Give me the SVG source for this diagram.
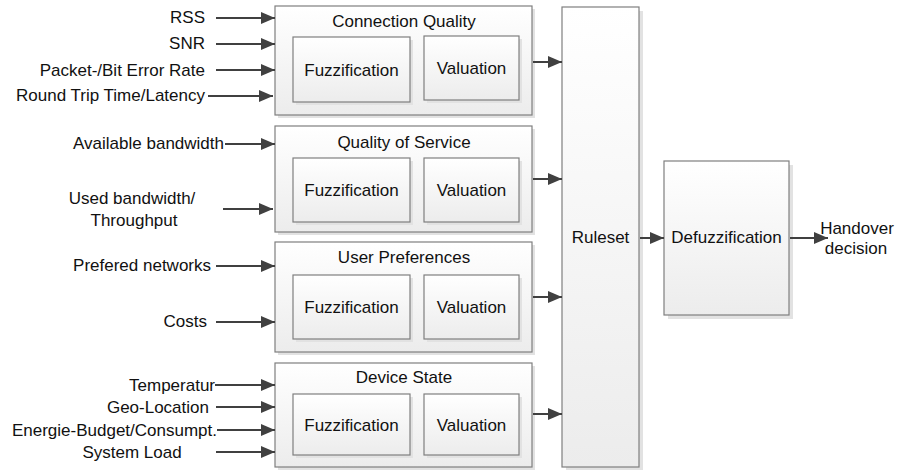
<svg xmlns="http://www.w3.org/2000/svg" width="902" height="470" viewBox="0 0 902 470">
<defs>
<linearGradient id="g" x1="0" y1="0" x2="0" y2="1">
<stop offset="0" stop-color="#ffffff"/>
<stop offset="1" stop-color="#ececec"/>
</linearGradient>
<marker id="ah" markerUnits="userSpaceOnUse" markerWidth="14" markerHeight="12" viewBox="0 0 14 12" refX="14" refY="6" orient="auto">
<path d="M0,0 L14,6 L0,12 z" fill="#404040"/>
</marker>
</defs>
<style>
text{font-family:"Liberation Sans",Arial,sans-serif;font-size:17px;fill:#111111}
.c{text-anchor:middle}
.r{text-anchor:end}
.box{fill:url(#g);stroke:#7f7f7f;stroke-width:1.2}
.sh{fill:#e2e2e2}
.cn line{stroke:#404040;stroke-width:2;marker-end:url(#ah)}
</style>
<rect width="902" height="470" fill="#ffffff"/>

<g id="connection-quality">
<rect class="sh" x="278" y="9" width="257" height="109"/>
<rect class="box" x="275" y="6" width="257" height="109"/>
<text class="c" x="404" y="27">Connection Quality</text>
<g id="cq-fuzz"><rect class="sh" x="296" y="40" width="117" height="65"/><rect class="box" x="293" y="37" width="117" height="65"/><text class="c" x="351.5" y="75.5">Fuzzification</text></g>
<g id="cq-val"><rect class="sh" x="427" y="39" width="95" height="64"/><rect class="box" x="424" y="36" width="95" height="64"/><text class="c" x="471.5" y="74">Valuation</text></g>
</g>

<g id="quality-of-service">
<rect class="sh" x="278" y="129" width="257" height="106"/>
<rect class="box" x="275" y="126" width="257" height="106"/>
<text class="c" x="404" y="148">Quality of Service</text>
<g id="qos-fuzz"><rect class="sh" x="296" y="161" width="117" height="64"/><rect class="box" x="293" y="158" width="117" height="64"/><text class="c" x="351.5" y="196">Fuzzification</text></g>
<g id="qos-val"><rect class="sh" x="427" y="161" width="95" height="64"/><rect class="box" x="424" y="158" width="95" height="64"/><text class="c" x="471.5" y="196">Valuation</text></g>
</g>

<g id="user-preferences">
<rect class="sh" x="278" y="245" width="257" height="110"/>
<rect class="box" x="275" y="242" width="257" height="110"/>
<text class="c" x="404" y="263">User Preferences</text>
<g id="up-fuzz"><rect class="sh" x="296" y="278" width="117" height="64"/><rect class="box" x="293" y="275" width="117" height="64"/><text class="c" x="351.5" y="313">Fuzzification</text></g>
<g id="up-val"><rect class="sh" x="427" y="278" width="95" height="64"/><rect class="box" x="424" y="275" width="95" height="64"/><text class="c" x="471.5" y="313">Valuation</text></g>
</g>

<g id="device-state">
<rect class="sh" x="278" y="366" width="257" height="104"/>
<rect class="box" x="275" y="363" width="257" height="104"/>
<text class="c" x="404" y="383">Device State</text>
<g id="ds-fuzz"><rect class="sh" x="296" y="397" width="117" height="61"/><rect class="box" x="293" y="394" width="117" height="61"/><text class="c" x="351.5" y="430.5">Fuzzification</text></g>
<g id="ds-val"><rect class="sh" x="427" y="397" width="95" height="61"/><rect class="box" x="424" y="394" width="95" height="61"/><text class="c" x="471.5" y="430.5">Valuation</text></g>
</g>

<g id="ruleset">
<rect class="sh" x="566" y="11" width="77" height="460"/>
<rect class="box" x="562" y="7" width="77" height="460"/>
<text class="c" x="600.5" y="243">Ruleset</text>
</g>

<g id="defuzzification">
<rect class="sh" x="668" y="165" width="125" height="154"/>
<rect class="box" x="664" y="161" width="125" height="154"/>
<text class="c" x="726.5" y="243">Defuzzification</text>
</g>

<g id="inputs">
<text class="r" x="205" y="23">RSS</text>
<text class="r" x="205" y="49">SNR</text>
<text class="r" x="205" y="76">Packet-/Bit Error Rate</text>
<text class="r" x="205" y="101">Round Trip Time/Latency</text>
<text class="r" x="224" y="149">Available bandwidth</text>
<text class="c" x="132" y="204">Used bandwidth/</text>
<text class="c" x="134" y="226">Throughput</text>
<text class="r" x="211" y="271">Prefered networks</text>
<text class="r" x="207" y="327">Costs</text>
<text class="r" x="215" y="391">Temperatur</text>
<text class="r" x="209" y="413">Geo-Location</text>
<text class="r" x="217" y="436">Energie-Budget/Consumpt.</text>
<text class="c" x="132" y="458">System Load</text>
</g>

<g id="handover-decision">
<text class="c" x="857" y="234">Handover</text>
<text class="c" x="856" y="254">decision</text>
</g>

<g id="connectors" class="cn">
<line x1="216" y1="18" x2="275" y2="18"/>
<line x1="216" y1="44" x2="275" y2="44"/>
<line x1="216" y1="70" x2="275" y2="70"/>
<line x1="208" y1="96" x2="273" y2="96"/>
<line x1="225" y1="144" x2="275" y2="144"/>
<line x1="223" y1="209" x2="273" y2="209"/>
<line x1="216" y1="266" x2="275" y2="266"/>
<line x1="216" y1="322" x2="275" y2="322"/>
<line x1="215" y1="385" x2="275" y2="385"/>
<line x1="216" y1="407" x2="275" y2="407"/>
<line x1="217" y1="430" x2="275" y2="430"/>
<line x1="216" y1="452" x2="275" y2="452"/>
<line x1="533" y1="62" x2="562" y2="62"/>
<line x1="533" y1="179" x2="562" y2="179"/>
<line x1="533" y1="297" x2="562" y2="297"/>
<line x1="533" y1="414" x2="562" y2="414"/>
<line x1="640" y1="238" x2="664" y2="238"/>
<line x1="790" y1="238" x2="828" y2="238"/>
</g>
</svg>
